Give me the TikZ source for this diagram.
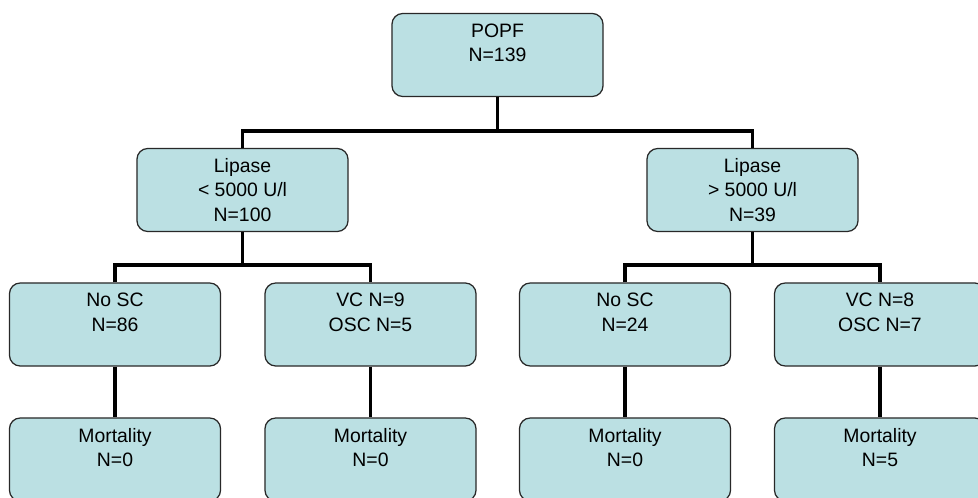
\documentclass[tikz,border=0pt]{standalone}
\usepackage{fontspec}
\setmainfont{Liberation Sans}
\usepackage{tikz}
\usetikzlibrary{positioning}
\definecolor{boxfill}{RGB}{187,224,227}
\definecolor{boxline}{RGB}{40,40,40}
\tikzset {
  % rounded group box
  group/.style = {draw=boxline, line width=0.9pt, fill=boxfill, rounded corners=0.27cm,
    minimum width=5.275cm, minimum height=2.075cm, inner sep=0pt, align=center,
    font=\fontsize{13.8}{17.3}\selectfont},
  % tree connectors
  link/.style = {line width=2.8pt},
}

\begin{document}
\begin{tikzpicture}[x=0.025cm, y=-0.025cm]
        \useasboundingbox (0,0) rectangle (978,498);

        \node[group] (popf) at (497.5,55) {POPF\\N=139\\~};
        \node[group] (lipL) at (242.5,190) {Lipase\\< 5000 U/l\\N=100};
        \node[group] (lipR) at (752.5,190) {Lipase\\> 5000 U/l\\N=39};

        \node[group] (noscL) at (115,324.5) {No SC\\N=86\\~};
        \node[group] (vcL) at (370.5,324.5) {VC N=9\\OSC N=5\\~};
        \node[group] (noscR) at (625,324.5) {No SC\\N=24\\~};
        \node[group] (vcR) at (880,324.5) {VC N=8\\OSC N=7\\~};

        \node[group] (mortA) at (115,459.5) {Mortality\\N=0\\~};
        \node[group] (mortB) at (370.5,459.5) {Mortality\\N=0\\~};
        \node[group] (mortC) at (625,459.5) {Mortality\\N=0\\~};
        \node[group] (mortD) at (880,459.5) {Mortality\\N=5\\~};

        \coordinate (j1) at (497.5,131);
        \coordinate (j2) at (242.5,265);
        \coordinate (j3) at (752.5,265);

        \draw[link] (popf) -- (j1);
        \draw[link] (lipL.north) |- (j1) -| (lipR.north);
        \draw[link] (lipL) -- (j2);
        \draw[link] (noscL.north) |- (j2) -| (vcL.north);
        \draw[link] (lipR) -- (j3);
        \draw[link] (noscR.north) |- (j3) -| (vcR.north);

        \draw[link] (noscL) -- (mortA);
        \draw[link] (vcL) -- (mortB);
        \draw[link] (noscR) -- (mortC);
        \draw[link] (vcR) -- (mortD);
      \end{tikzpicture}
\end{document}
